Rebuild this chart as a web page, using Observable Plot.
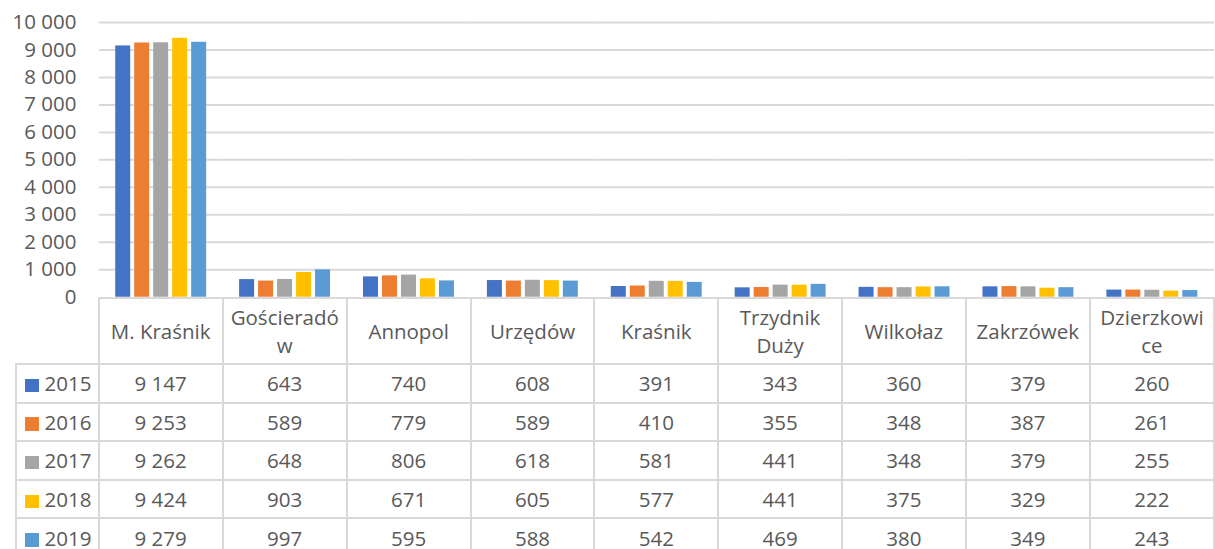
<!DOCTYPE html>
<html>
<head>
<meta charset="utf-8">
<script src="https://cdn.jsdelivr.net/npm/d3@7"></script>
<script src="https://cdn.jsdelivr.net/npm/@observablehq/plot@0.6"></script>
<style>
  html, body { margin: 0; padding: 0; background: #fff; }
  #wrap { position: relative; width: 1215px; height: 549px; overflow: hidden; font-family: "Open Sans", sans-serif; color: #595959; }
  #chart { position: absolute; left: 0; top: 0; }
  #chart svg text { font-size: 20.5px; }
  #tbl { position: absolute; left: 15px; top: 297px; border-collapse: collapse; table-layout: fixed; font-size: 20.5px; color: #595959; }
  #tbl td { border: 2px solid #d9d9d9; text-align: center; padding: 0; line-height: 28px; white-space: pre; overflow: hidden; }
  #tbl td.corner { border-top: none; border-left: none; }
  #tbl td.rowlab { text-align: left; padding-left: 8px; }
  .sw { display: inline-block; width: 13.5px; height: 13.5px; margin-right: 6px; vertical-align: -1px; }
</style>
</head>
<body>
<div id="wrap">
  <div id="chart"></div>
  <table id="tbl"></table>
</div>
<script>
const categories = ["M. Kraśnik", "Gościeradów", "Annopol", "Urzędów", "Kraśnik", "Trzydnik Duży", "Wilkołaz", "Zakrzówek", "Dzierzkowice"];
const categoryLabels = ["M. Kraśnik", "Gościeradó\nw", "Annopol", "Urzędów", "Kraśnik", "Trzydnik\nDuży", "Wilkołaz", "Zakrzówek", "Dzierzkowi\nce"];
const years = ["2015", "2016", "2017", "2018", "2019"];
const colors = ["#4472C4", "#ED7D31", "#A5A5A5", "#FFC000", "#5B9BD5"];
const v2015 = [9147, 643, 740, 608, 391, 343, 360, 379, 260];
const v2016 = [9253, 589, 779, 589, 410, 355, 348, 387, 261];
const v2017 = [9262, 648, 806, 618, 581, 441, 348, 379, 255];
const v2018 = [9424, 903, 671, 605, 577, 441, 375, 329, 222];
const v2019 = [9279, 997, 595, 588, 542, 469, 380, 349, 243];
const yTicks = [0, 1000, 2000, 3000, 4000, 5000, 6000, 7000, 8000, 9000, 10000];

const series = [v2015, v2016, v2017, v2018, v2019];
const data = [];
years.forEach((yr, i) => categories.forEach((c, j) => data.push({cat: c, year: yr, value: series[i][j]})));

const fmt = d => d3.format(",")(d).replace(/,/g, " ");

const plot = Plot.plot({
  width: 1216,
  height: 312,
  marginLeft: 97.7,
  marginRight: 0,
  marginTop: 22,
  marginBottom: 15,
  style: {fontFamily: "Open Sans, sans-serif", fontSize: "20.5px", color: "#595959", background: "transparent", overflow: "visible"},
  fx: {domain: categories, padding: 0, axis: null},
  x: {domain: years, paddingInner: 0.22, paddingOuter: 0.83, axis: null},
  y: {domain: [0, 10000], axis: null},
  color: {domain: years, range: colors},
  marks: [
    Plot.ruleY(yTicks.filter(d => d > 0), {stroke: "#d9d9d9", strokeWidth: 2}),
    Plot.barY(data, {fx: "cat", x: "year", y: "value", fill: "year"}),
    Plot.axisY({ticks: yTicks, tickSize: 0, tickPadding: 23, tickFormat: fmt, label: null, fill: "#595959", facetAnchor: "left"})
  ]
});
document.getElementById("chart").appendChild(plot);

const tbl = document.getElementById("tbl");
const colg = document.createElement("colgroup");
colg.innerHTML = `<col style="width:82.7px">` + categories.map(() => `<col style="width:124.3px">`).join("");
tbl.appendChild(colg);
const hr = document.createElement("tr");
hr.style.height = "66px";
hr.innerHTML = `<td class="corner"></td>` + categoryLabels.map(l => `<td>${l}</td>`).join("");
tbl.appendChild(hr);
years.forEach((yr, i) => {
  const tr = document.createElement("tr");
  tr.style.height = "38.6px";
  tr.innerHTML = `<td class="rowlab"><span class="sw" style="background:${colors[i]}"></span>${yr}</td>` +
    series[i].map(v => `<td>${fmt(v)}</td>`).join("");
  tbl.appendChild(tr);
});
</script>
</body>
</html>
